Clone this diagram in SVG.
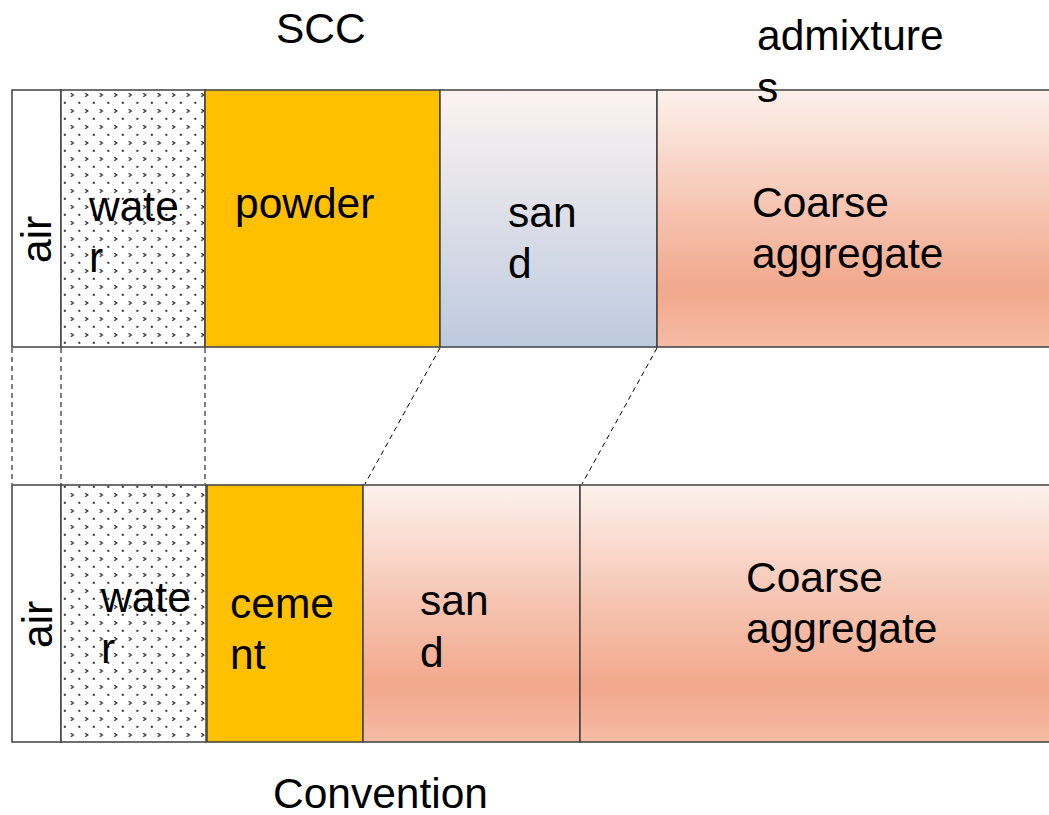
<svg xmlns="http://www.w3.org/2000/svg" width="1049" height="815" viewBox="0 0 1049 815">
<style>
.box{stroke:#404040;stroke-width:1.5}
.t{font-family:"Liberation Sans",Arial,sans-serif;font-size:42.5px;fill:#000}
.dash{stroke:#000;stroke-width:1;stroke-dasharray:5 4;fill:none}
</style>
<defs>
<pattern id="water" patternUnits="userSpaceOnUse" x="61" y="90" width="14.5" height="16">
<rect width="14.5" height="16" fill="#fff"/>
<path d="M9.8 3.3 L12.2 5 L9.8 6.7" stroke="#333" stroke-width="1.4" fill="none"/>
<rect x="2.8" y="11.8" width="2" height="2" fill="#333"/>
</pattern>
<linearGradient id="gSandTop" x1="0" y1="0" x2="0" y2="1">
<stop offset="0" stop-color="#FCF3F1"/>
<stop offset="1" stop-color="#BDCADF"/>
</linearGradient>
<linearGradient id="gCoarse" x1="0" y1="0" x2="0" y2="1">
<stop offset="0" stop-color="#FDF1ED"/>
<stop offset="0.45" stop-color="#F6C5B2"/>
<stop offset="0.78" stop-color="#F2A88C"/>
<stop offset="1" stop-color="#F5BBA4"/>
</linearGradient>
</defs>
<rect width="1049" height="815" fill="#fff"/>

<g id="top-row">
<g id="top-air"><rect class="box" x="12" y="90" width="49" height="257" fill="#fff"/></g>
<g id="top-water"><rect class="box" x="61" y="90" width="144" height="257" fill="url(#water)"/></g>
<g id="top-powder"><rect class="box" x="205" y="90" width="235" height="257" fill="#FFC000"/></g>
<g id="top-sand"><rect class="box" x="440" y="90" width="217" height="257" fill="url(#gSandTop)"/></g>
<g id="top-coarse"><rect class="box" x="657" y="90" width="400" height="257" fill="url(#gCoarse)"/></g>
</g>

<g id="bottom-row">
<g id="bot-air"><rect class="box" x="12" y="485" width="49" height="257" fill="#fff"/></g>
<g id="bot-water"><rect class="box" x="61" y="485" width="145" height="257" fill="url(#water)"/></g>
<g id="bot-cement"><rect class="box" x="207" y="485" width="156" height="257" fill="#FFC000"/></g>
<g id="bot-sand"><rect class="box" x="363" y="485" width="217" height="257" fill="url(#gCoarse)"/></g>
<g id="bot-coarse"><rect class="box" x="580" y="485" width="480" height="257" fill="url(#gCoarse)"/></g>
</g>

<g id="connectors">
<line class="dash" x1="12" y1="348" x2="12" y2="484"/>
<line class="dash" x1="61" y1="348" x2="61" y2="484"/>
<line class="dash" x1="205" y1="348" x2="205" y2="484"/>
<line class="dash" x1="440" y1="348" x2="365" y2="484"/>
<line class="dash" x1="657" y1="348" x2="582" y2="484"/>
</g>

<g id="labels">
<text class="t" x="276" y="43">SCC</text>
<text class="t" x="757" y="50">admixture</text>
<text class="t" x="757" y="102">s</text>
<text class="t" transform="translate(51,263) rotate(-90)">air</text>
<text class="t" x="89" y="221">wate</text>
<text class="t" x="89" y="272">r</text>
<text class="t" x="235" y="218">powder</text>
<text class="t" x="508" y="227">san</text>
<text class="t" x="508" y="278">d</text>
<text class="t" x="752" y="217">Coarse</text>
<text class="t" x="752" y="268">aggregate</text>

<text class="t" transform="translate(52,648) rotate(-90)">air</text>
<text class="t" x="101" y="612">wate</text>
<text class="t" x="101" y="663">r</text>
<text class="t" x="230" y="618">ceme</text>
<text class="t" x="230" y="669">nt</text>
<text class="t" x="420" y="615">san</text>
<text class="t" x="420" y="667">d</text>
<text class="t" x="746" y="592">Coarse</text>
<text class="t" x="746" y="643">aggregate</text>
<text class="t" x="273" y="808">Convention</text>
</g>
</svg>
